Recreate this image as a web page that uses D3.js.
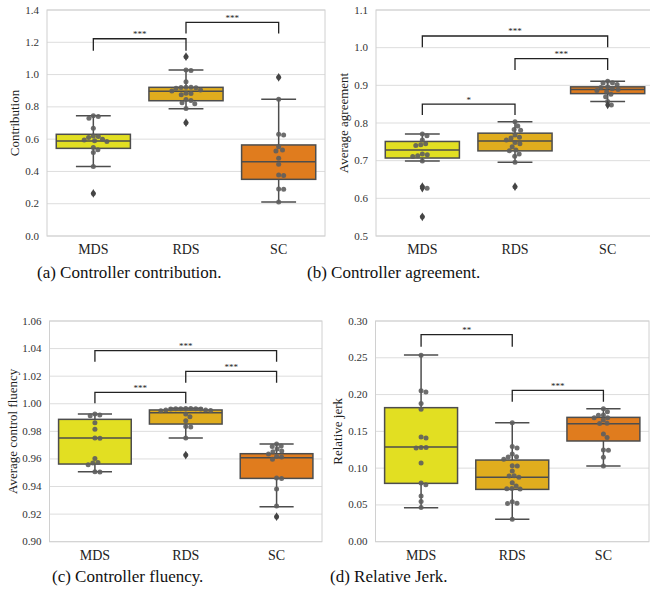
<!DOCTYPE html>
<html>
<head>
<meta charset="utf-8">
<script src="https://cdn.jsdelivr.net/npm/d3@7"></script>
</head>
<body style="margin:0">
<svg id="chart" width="650" height="599"></svg>
<script>
// ---------- DATA ----------
const categories = ["MDS", "RDS", "SC"];
const colors = ["#e2df22", "#e0ad1e", "#e07c1e"];

// (a) Controller contribution
const contribTicks = [0.0, 0.2, 0.4, 0.6, 0.8, 1.0, 1.2, 1.4];
const contribMDS = [0.745, 0.74, 0.73, 0.667, 0.62, 0.617, 0.61, 0.60, 0.595, 0.59, 0.585, 0.548, 0.535, 0.517, 0.43, 0.264];
const contribRDS = [1.111, 1.028, 1.025, 0.956, 0.922, 0.921, 0.92, 0.918, 0.915, 0.905, 0.898, 0.885, 0.882, 0.875, 0.845, 0.84, 0.826, 0.82, 0.79, 0.702];
const contribSC  = [0.983, 0.847, 0.63, 0.626, 0.553, 0.533, 0.527, 0.481, 0.444, 0.378, 0.375, 0.291, 0.29, 0.21];
const contribQ1 = [0.543, 0.838, 0.351];
const contribMed = [0.588, 0.896, 0.46];
const contribQ3 = [0.63, 0.921, 0.564];
const contribLo = [0.43, 0.789, 0.21];
const contribHi = [0.745, 1.028, 0.847];
const contribOut = [[0.264], [1.111, 0.702], [0.983]];
const contribSig = [
  { from: 0, to: 1, top: 1.222, legL: 1.148, legR: 1.148, label: "***" },
  { from: 1, to: 2, top: 1.323, legL: 1.255, legR: 1.255, label: "***" }
];

// (b) Controller agreement
const agreeTicks = [0.5, 0.6, 0.7, 0.8, 0.9, 1.0, 1.1];
const agreeMDS = [0.771, 0.766, 0.755, 0.745, 0.742, 0.74, 0.718, 0.716, 0.713, 0.711, 0.699, 0.631, 0.627, 0.551];
const agreeRDS = [0.803, 0.792, 0.783, 0.781, 0.768, 0.762, 0.76, 0.755, 0.748, 0.745, 0.737, 0.728, 0.726, 0.718, 0.712, 0.696, 0.631];
const agreeSC  = [0.911, 0.907, 0.906, 0.902, 0.896, 0.894, 0.891, 0.889, 0.886, 0.883, 0.876, 0.87, 0.857, 0.848];
const agreeQ1 = [0.707, 0.726, 0.878];
const agreeMed = [0.728, 0.752, 0.889];
const agreeQ3 = [0.751, 0.773, 0.896];
const agreeLo = [0.699, 0.696, 0.857];
const agreeHi = [0.771, 0.803, 0.911];
const agreeOut = [[0.631, 0.627, 0.551], [0.631], [0.848]];
const agreeSig = [
  { from: 0, to: 1, top: 0.850, legL: 0.821, legR: 0.821, label: "*" },
  { from: 1, to: 2, top: 0.971, legL: 0.941, legR: 0.941, label: "***" },
  { from: 0, to: 2, top: 1.031, legL: 1.001, legR: 1.001, label: "***" }
];

// (c) Controller fluency
const fluencyTicks = [0.90, 0.92, 0.94, 0.96, 0.98, 1.00, 1.02, 1.04, 1.06];
const fluencyMDS = [0.9926, 0.9918, 0.9914, 0.9863, 0.9815, 0.9752, 0.9750, 0.9604, 0.9575, 0.9571, 0.9558, 0.9508, 0.9506];
const fluencyRDS = [0.9966, 0.9965, 0.9964, 0.9964, 0.9963, 0.9962, 0.9962, 0.9955, 0.9954, 0.9952, 0.9950, 0.9926, 0.9906, 0.9877, 0.9836, 0.9832, 0.9752, 0.9628];
const fluencySC  = [0.9708, 0.9694, 0.9690, 0.9672, 0.9657, 0.9653, 0.9636, 0.9618, 0.9614, 0.9597, 0.9462, 0.9458, 0.9382, 0.9259, 0.9181];
const fluencyQ1 = [0.9563, 0.9853, 0.9459];
const fluencyMed = [0.9752, 0.9935, 0.9609];
const fluencyQ3 = [0.9887, 0.9955, 0.9638];
const fluencyLo = [0.9508, 0.9752, 0.9254];
const fluencyHi = [0.9926, 0.9968, 0.9708];
const fluencyOut = [[], [0.9628], [0.9181]];
const fluencySig = [
  { from: 0, to: 1, top: 1.0083, legL: 1.0003, legR: 1.0003, label: "***" },
  { from: 1, to: 2, top: 1.0235, legL: 1.0153, legR: 1.0153, label: "***" },
  { from: 0, to: 2, top: 1.0385, legL: 1.0305, legR: 1.0305, label: "***" }
];

// (d) Relative jerk
const jerkTicks = [0.00, 0.05, 0.10, 0.15, 0.20, 0.25, 0.30];
const jerkMDS = [0.2535, 0.2053, 0.2035, 0.188, 0.18, 0.1423, 0.141, 0.1282, 0.128, 0.1275, 0.107, 0.0797, 0.0775, 0.0621, 0.0548, 0.0465];
const jerkRDS = [0.1618, 0.1295, 0.1275, 0.1192, 0.1156, 0.1152, 0.112, 0.1033, 0.103, 0.096, 0.0897, 0.0893, 0.0875, 0.080, 0.0757, 0.0722, 0.072, 0.0715, 0.0544, 0.0522, 0.052, 0.0304];
const jerkSC  = [0.1808, 0.1767, 0.1722, 0.172, 0.1686, 0.1684, 0.1654, 0.1609, 0.1607, 0.1464, 0.1418, 0.1246, 0.1244, 0.1147, 0.1029];
const jerkQ1 = [0.0793, 0.0711, 0.1369];
const jerkMed = [0.1287, 0.0875, 0.1604];
const jerkQ3 = [0.1822, 0.111, 0.169];
const jerkLo = [0.0462, 0.0304, 0.1029];
const jerkHi = [0.2538, 0.1618, 0.1808];
const jerkOut = [[], [], []];
const jerkSig = [
  { from: 0, to: 1, top: 0.2814, legL: 0.2651, legR: 0.2651, label: "**" },
  { from: 1, to: 2, top: 0.2057, legL: 0.1903, legR: 0.1903, label: "***" }
];

const captions = ["(a) Controller contribution.", "(b) Controller agreement.", "(c) Controller fluency.", "(d) Relative Jerk."];
const yTitles = ["Contribution", "Average agreement", "Average control fluency", "Relative jerk"];

// ---------- LAYOUT ----------
const SERIF = "serif";
const panels = [
  { pts: [contribMDS, contribRDS, contribSC], q1: contribQ1, med: contribMed, q3: contribQ3, lo: contribLo, hi: contribHi, out: contribOut, sig: contribSig,
    ticks: contribTicks, fmt: ".1f", title: yTitles[0], caption: captions[0],
    box: { l: 47, r: 325, t: 10, b: 236 }, titleX: 15, capX: 37, capY: 278 },
  { pts: [agreeMDS, agreeRDS, agreeSC], q1: agreeQ1, med: agreeMed, q3: agreeQ3, lo: agreeLo, hi: agreeHi, out: agreeOut, sig: agreeSig,
    ticks: agreeTicks, fmt: ".1f", title: yTitles[1], caption: captions[1],
    box: { l: 376, r: 654, t: 10, b: 236 }, titleX: 344, capX: 307, capY: 278 },
  { pts: [fluencyMDS, fluencyRDS, fluencySC], q1: fluencyQ1, med: fluencyMed, q3: fluencyQ3, lo: fluencyLo, hi: fluencyHi, out: fluencyOut, sig: fluencySig,
    ticks: fluencyTicks, fmt: ".2f", title: yTitles[2], caption: captions[2],
    box: { l: 49.5, r: 322, t: 321, b: 541.7 }, titleX: 13, capX: 52, capY: 582 },
  { pts: [jerkMDS, jerkRDS, jerkSC], q1: jerkQ1, med: jerkMed, q3: jerkQ3, lo: jerkLo, hi: jerkHi, out: jerkOut, sig: jerkSig,
    ticks: jerkTicks, fmt: ".2f", title: yTitles[3], caption: captions[3],
    box: { l: 375.5, r: 649, t: 321, b: 541.7 }, titleX: 338, capX: 330, capY: 582 }
];

const svg = d3.select("#chart");
const edge = "#4d4d4d";
const R = 2.5;

function swarm(ys, r) {
  const order = ys.map((y, i) => ({ y, i })).sort((a, b) => a.y - b.y);
  const placed = [];
  const offs = new Array(ys.length).fill(0);
  const d = 2 * r;
  order.forEach(p => {
    const cands = [0];
    placed.forEach(q => {
      const dy = Math.abs(q.y - p.y);
      if (dy < d) {
        const dx = Math.sqrt(d * d - dy * dy);
        cands.push(q.x + dx + 0.01, q.x - dx - 0.01);
      }
    });
    cands.sort((a, b) => Math.abs(a) - Math.abs(b));
    let best = 0;
    for (const c of cands) {
      const ok = placed.every(q => (q.x - c) ** 2 + (q.y - p.y) ** 2 >= d * d - 0.05);
      if (ok) { best = c; break; }
    }
    placed.push({ x: best, y: p.y });
    offs[p.i] = best;
  });
  return offs;
}

// captions first
panels.forEach(P => {
  svg.append("text").attr("x", P.capX).attr("y", P.capY)
    .attr("font-family", SERIF).attr("font-size", 17).attr("fill", "#111").text(P.caption);
});

panels.forEach(P => {
  const B = P.box;
  const g = svg.append("g");
  const y = d3.scaleLinear().domain([P.ticks[0], P.ticks[P.ticks.length - 1]]).range([B.b, B.t]);
  const x = d3.scaleBand().domain(categories).range([B.l, B.r]).paddingInner(0.2).paddingOuter(0.1);
  const bw = x.bandwidth();
  const cx = c => x(c) + bw / 2;

  g.append("g").selectAll("line").data(P.ticks).join("line")
    .attr("x1", B.l).attr("x2", B.r)
    .attr("y1", d => y(d)).attr("y2", d => y(d))
    .attr("stroke", "#dddddd").attr("stroke-width", 1);
  g.append("rect").attr("x", B.l).attr("y", B.t).attr("width", B.r - B.l).attr("height", B.b - B.t)
    .attr("fill", "none").attr("stroke", "#d0d0d0").attr("stroke-width", 1);

  // y tick labels drawn from the scale
  g.append("g").selectAll("text").data(P.ticks).join("text")
    .attr("x", B.l - 8).attr("y", d => y(d)).attr("dy", "0.32em")
    .attr("text-anchor", "end").attr("font-family", SERIF).attr("font-size", 11).attr("fill", "#333")
    .text(d3.format(P.fmt));
  // category labels
  g.append("g").selectAll("text").data(categories).join("text")
    .attr("x", d => cx(d)).attr("y", B.b + 18)
    .attr("text-anchor", "middle").attr("font-family", SERIF).attr("font-size", 14).attr("fill", "#222")
    .text(d => d);

  g.append("text").attr("transform", `translate(${P.titleX + 4},${(B.t + B.b) / 2}) rotate(-90)`)
    .attr("text-anchor", "middle")
    .attr("font-family", SERIF).attr("font-size", 13).attr("fill", "#222").text(P.title);

  categories.forEach((c, i) => {
    const xc = cx(c);
    const capW = bw * 0.47;
    g.append("line").attr("x1", xc).attr("x2", xc).attr("y1", y(P.q3[i])).attr("y2", y(P.hi[i]))
      .attr("stroke", edge).attr("stroke-width", 1.5);
    g.append("line").attr("x1", xc).attr("x2", xc).attr("y1", y(P.q1[i])).attr("y2", y(P.lo[i]))
      .attr("stroke", edge).attr("stroke-width", 1.5);
    [P.hi[i], P.lo[i]].forEach(v => {
      g.append("line").attr("x1", xc - capW / 2).attr("x2", xc + capW / 2).attr("y1", y(v)).attr("y2", y(v))
        .attr("stroke", edge).attr("stroke-width", 1.5);
    });
    g.append("rect").attr("x", x(c)).attr("width", bw)
      .attr("y", y(P.q3[i])).attr("height", y(P.q1[i]) - y(P.q3[i]))
      .attr("fill", colors[i]).attr("stroke", edge).attr("stroke-width", 1.5);
    g.append("line").attr("x1", x(c)).attr("x2", x(c) + bw).attr("y1", y(P.med[i])).attr("y2", y(P.med[i]))
      .attr("stroke", edge).attr("stroke-width", 1.5);

    const ys = P.pts[i].map(v => y(v));
    const offs = swarm(ys, R);
    g.append("g").selectAll("circle").data(P.pts[i]).join("circle")
      .attr("cx", (d, j) => xc + offs[j]).attr("cy", d => y(d)).attr("r", R)
      .attr("fill", "#5e5e5e").attr("fill-opacity", 0.9);

    g.append("g").selectAll("path").data(P.out[i]).join("path")
      .attr("d", d3.symbol().type(d3.symbolDiamond).size(22))
      .attr("transform", d => `translate(${xc},${y(d)})`)
      .attr("fill", "#444");
  });

  P.sig.forEach(s => {
    const x1 = cx(categories[s.from]), x2 = cx(categories[s.to]);
    g.append("path")
      .attr("d", `M${x1},${y(s.legL)}V${y(s.top)}H${x2}V${y(s.legR)}`)
      .attr("fill", "none").attr("stroke", "#222").attr("stroke-width", 1.3);
    g.append("text").attr("x", (x1 + x2) / 2).attr("y", y(s.top) - 1.5)
      .attr("text-anchor", "middle").attr("font-family", SERIF).attr("font-size", 9)
      .attr("fill", "#222").text(s.label);
  });
});
</script>
</body>
</html>
